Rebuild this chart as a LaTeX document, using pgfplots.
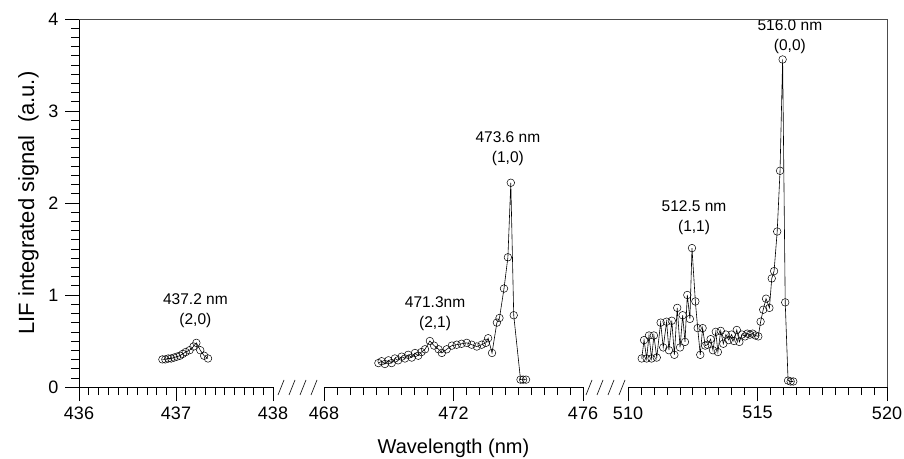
\documentclass[border=0pt]{standalone}
\usepackage{fontspec}
\setmainfont{Liberation Sans}
\usepackage{pgfplots}
\pgfplotsset{compat=1.18}
\tikzset{lab/.style={align=center, font=\fontsize{15.5}{20}\selectfont}}
\begin{document}
\begin{tikzpicture}
\path[use as bounding box] (0pt,0pt) rectangle (904pt,458pt);
\pgfplotsset{
  seg/.style={
    scale only axis, height=368pt, ymin=0, ymax=4,
    axis x line*=bottom,
    axis line style={line width=0.6pt},
    tick style={black, line width=0.6pt},
    tick align=outside,
    major tick length=14pt, minor tick length=8pt,
    ticklabel style={font=\fontsize{18}{20}\selectfont},
    /pgf/number format/assume math mode=true,
    xticklabel style={yshift=-2pt},
    yticklabel style={xshift=-3pt},
    clip=false,
  },
  ser/.style={black, line width=0.6pt, mark=o, mark size=3.8pt, mark options={line width=0.5pt}},
}
% segment 1
\begin{axis}[seg, at={(79pt,71pt)}, anchor=south west, width=194pt,
  xmin=436, xmax=438, xtick={436,437,438}, minor x tick num=9,
  axis y line*=left, ytick={0,1,2,3,4}, minor y tick num=9,
  ylabel={LIF integrated signal\ \ (a.u.)},
  ylabel style={font=\fontsize{22}{24}\selectfont, at={(axis description cs:-0.26,0.5)}, anchor=center},
  ]
\addplot[ser] coordinates {
(436.86,0.30) (436.89,0.30) (436.92,0.31) (436.95,0.31) (436.98,0.32)
(437.01,0.33) (437.04,0.34) (437.07,0.36) (437.10,0.38) (437.14,0.40)
(437.18,0.44) (437.21,0.48) (437.25,0.40) (437.29,0.34) (437.33,0.31)
};
\node[lab] at (axis cs:437.20,0.83) {437.2 nm\\(2,0)};
\end{axis}
% segment 2
\begin{axis}[seg, at={(324pt,71pt)}, anchor=south west, width=259pt,
  xmin=468, xmax=476, xtick={468,472,476}, minor x tick num=9,
  axis y line=none,
  xlabel={Wavelength (nm)},
  xlabel style={font=\fontsize{20}{22}\selectfont, at={(axis description cs:0.5,-0.166)}, anchor=center},
  ]
\addplot[ser] coordinates {
(469.68,0.26) (469.78,0.28) (469.88,0.25) (469.99,0.29) (470.09,0.26)
(470.19,0.31) (470.29,0.29) (470.40,0.33) (470.50,0.31) (470.60,0.35)
(470.71,0.32) (470.81,0.37) (470.91,0.34) (471.01,0.38) (471.12,0.41)
(471.27,0.50) (471.40,0.45) (471.54,0.41) (471.64,0.37) (471.79,0.41)
(471.95,0.45) (472.10,0.46) (472.25,0.47) (472.41,0.48) (472.56,0.46)
(472.72,0.44) (472.87,0.46) (473.00,0.48) (473.07,0.53) (473.19,0.37)
(473.34,0.70) (473.42,0.75) (473.56,1.07) (473.68,1.41) (473.77,2.22)
(473.86,0.78) (474.07,0.08) (474.15,0.08) (474.24,0.08)
};
\node[lab] at (axis cs:471.43,0.80) {471.3nm\\(2,1)};
\node[lab] at (axis cs:473.68,2.59) {473.6 nm\\(1,0)};
\end{axis}
% segment 3
\begin{axis}[seg, at={(628pt,71pt)}, anchor=south west, width=259pt,
  xmin=510, xmax=520, xtick={510,515,520}, minor x tick num=9,
  axis y line=none,
  ]
\addplot[ser] coordinates {
(510.53,0.31) (510.62,0.51) (510.72,0.31) (510.81,0.56) (510.91,0.31)
(511.00,0.56) (511.11,0.32) (511.26,0.70) (511.36,0.43) (511.49,0.71)
(511.58,0.40) (511.69,0.72) (511.79,0.35) (511.90,0.86) (512.01,0.43)
(512.11,0.78) (512.20,0.49) (512.29,1.00) (512.39,0.74) (512.47,1.51)
(512.60,0.93) (512.69,0.64) (512.79,0.35) (512.88,0.64) (512.98,0.45)
(513.07,0.46) (513.19,0.52) (513.28,0.40) (513.39,0.60) (513.47,0.38)
(513.58,0.61) (513.68,0.47) (513.78,0.57) (513.89,0.51) (514.00,0.57)
(514.09,0.50) (514.20,0.62) (514.30,0.49) (514.40,0.57) (514.52,0.55)
(514.61,0.58) (514.71,0.57) (514.81,0.58) (514.92,0.56) (515.03,0.55)
(515.12,0.71) (515.22,0.84) (515.33,0.96) (515.46,0.86) (515.55,1.18)
(515.64,1.26) (515.76,1.69) (515.87,2.35) (515.97,3.56) (516.07,0.92)
(516.18,0.07) (516.28,0.06) (516.38,0.06)
};
\node[lab] at (axis cs:512.55,1.84) {512.5 nm\\(1,1)};
\node[lab] at (axis cs:516.25,3.81) {516.0 nm\\(0,0)};
\end{axis}
% frame: top and right
\draw[line width=0.5pt, black!70] (79pt,439pt) -- (887pt,439pt) -- (887pt,71pt);
% break marks
\foreach \x in {281,292,303,314,589,600,611,622}
  \draw[line width=0.6pt] (\x pt-3pt,63pt) -- (\x pt+3pt,78pt);
\end{tikzpicture}
\end{document}
